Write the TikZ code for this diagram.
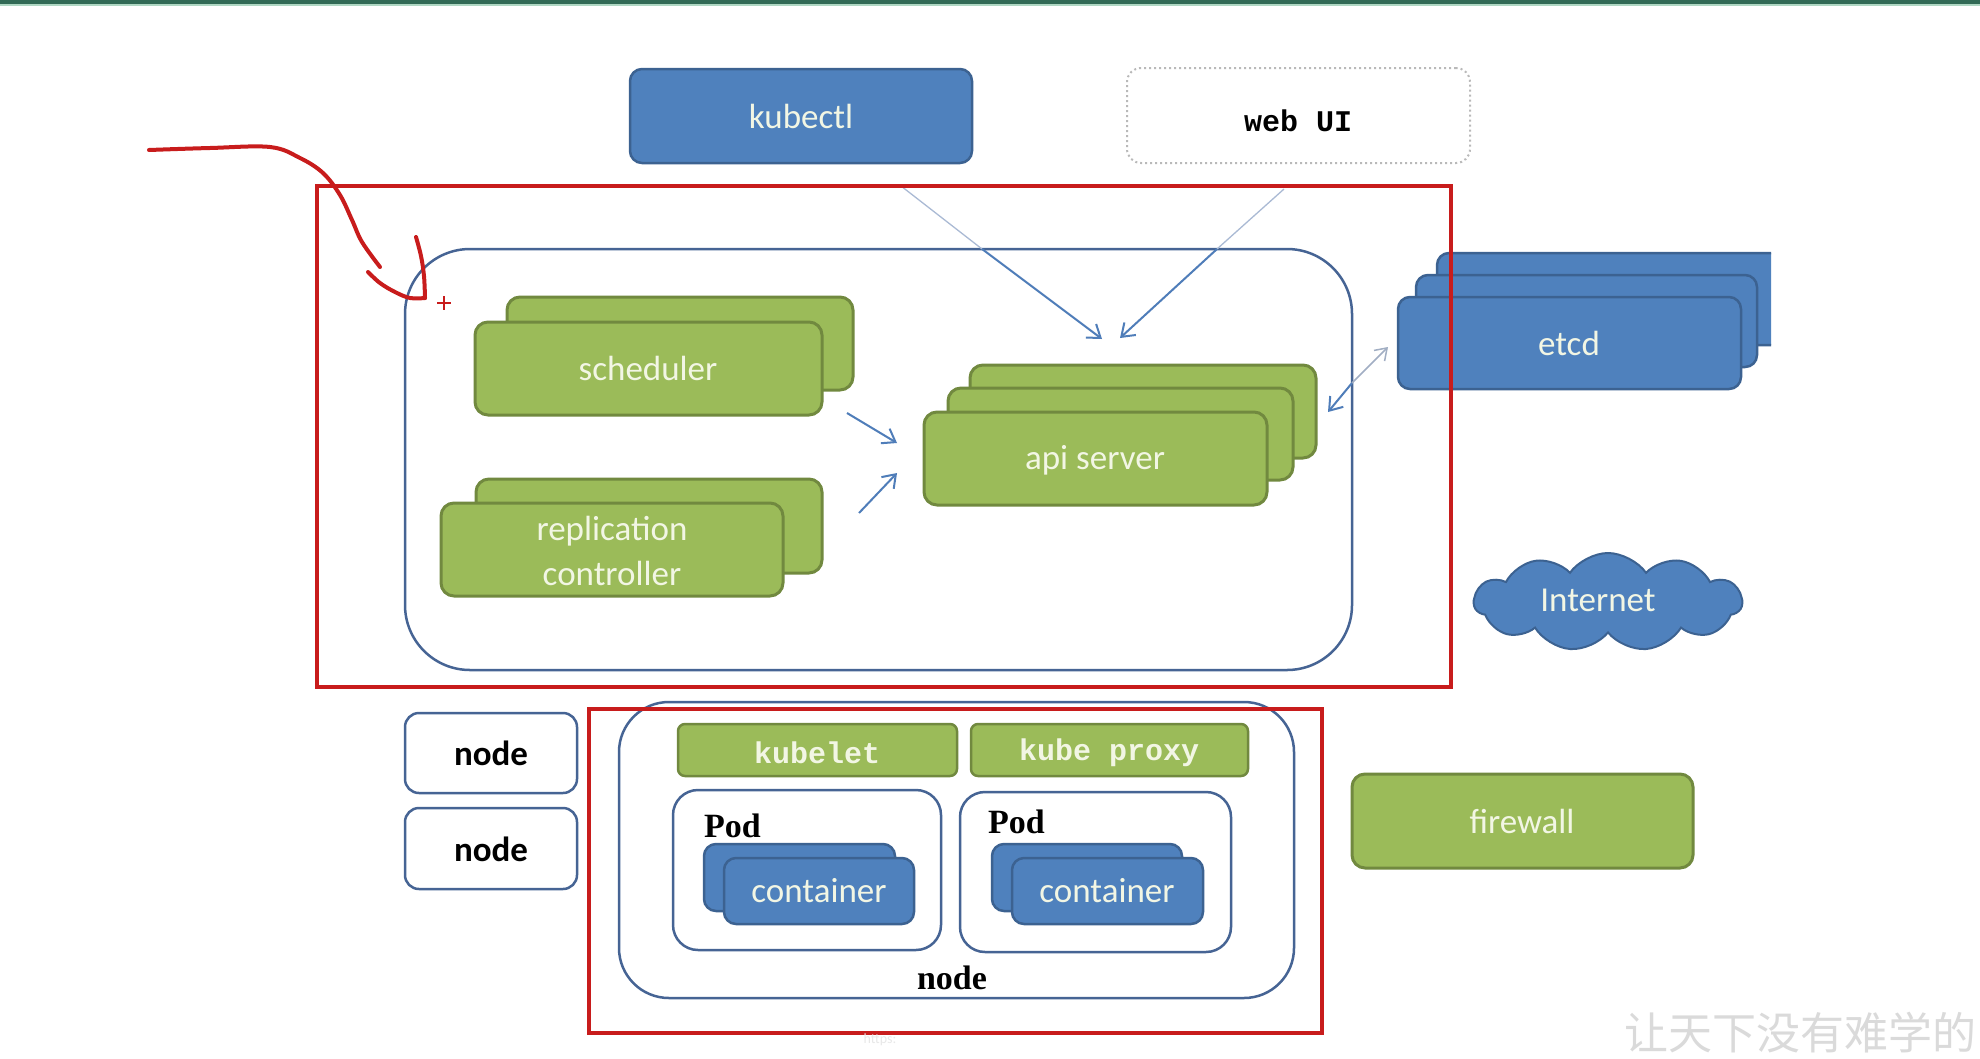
\documentclass[tikz,border=0pt]{standalone}
\usepackage{fontspec}
\usetikzlibrary{arrows.meta,shapes.symbols,fit}
\newfontfamily\ksans{Carlito}
\newfontfamily\kmono{Liberation Mono}
\newfontfamily\kserif{Liberation Serif}
\newfontfamily\kcjk{Noto Sans CJK SC}
\definecolor{bluefill}{RGB}{79,129,189}
\definecolor{bluebd}{RGB}{60,98,145}
\definecolor{greenfill}{RGB}{155,187,89}
\definecolor{greenbd}{RGB}{113,137,63}
\definecolor{outl}{RGB}{70,100,148}
\definecolor{redc}{RGB}{200,28,28}
\definecolor{arrowc}{RGB}{79,125,185}
\definecolor{faintc}{RGB}{170,186,212}
\definecolor{cream}{RGB}{242,246,228}
\definecolor{topbar}{RGB}{50,106,86}
\definecolor{topmint}{RGB}{175,215,195}
\definecolor{dotc}{RGB}{185,185,185}
\definecolor{wmc}{RGB}{218,218,218}
\begin{document}
\begin{tikzpicture}[x=1pt,y=-1pt,
  bluebox/.style={draw=bluebd, fill=bluefill, line width=2.5pt, rounded corners=12pt, inner sep=0pt},
  greenbox/.style={draw=greenbd, fill=greenfill, line width=3pt, rounded corners=13pt, inner sep=0pt},
  outlinebox/.style={draw=outl, line width=2.5pt, inner sep=0pt},
  redbox/.style={draw=redc, line width=4pt, inner sep=0pt},
  dotbox/.style={draw=dotc, line width=2pt, dash pattern=on 2pt off 3pt, rounded corners=14pt, inner sep=0pt},
  lbl/.style={font=\ksans\fontsize{35}{45}\selectfont, text=cream, inner sep=0pt, align=center},
  blbl/.style={font=\ksans\bfseries\fontsize{35}{42}\selectfont, text=black, inner sep=0pt},
  monolbl/.style={font=\kmono\bfseries\fontsize{30}{36}\selectfont, inner sep=0pt},
  seriflbl/.style={font=\kserif\bfseries\fontsize{34}{40}\selectfont, text=black, inner sep=0pt},
  arr/.style={draw=arrowc, line width=2pt, -{Straight Barb[length=12pt,width=17pt]}},
  faintline/.style={draw=faintc, line width=1.3pt},
  faintarr/.style={draw=faintc!80!gray, line width=1.5pt, -{Straight Barb[length=11pt,width=15pt]}},
  redpen/.style={draw=redc, line width=4pt, line cap=round, line join=round}
]
\clip (0,0) rectangle (1980,1058);
\fill[white] (0,0) rectangle (1980,1058);
\fill[topbar] (0,0) rectangle (1980,3.5);
\fill[topmint] (0,3.5) rectangle (1980,5.5);

% client boxes
\node[bluebox, fit={(630,69) (972,163)}] (kubectl) {};
\node[lbl] (kubectlt) at (801,116) {kubectl};
\node[dotbox, fit={(1127,68) (1470,163)}] (webui) {};
\node[monolbl, text=black] (webuit) at (1298,121) {web UI};

% master outline
\node[outlinebox, rounded corners=65pt, fit={(405,249) (1352,670)}] (master) {};

% scheduler
\node[greenbox, fit={(507,297) (853,390)}] (schedB) {};
\node[greenbox, fit={(475,322) (822,415)}] (schedF) {};
\node[lbl] (schedt) at (648,368) {scheduler};

% replication controller
\node[greenbox, fit={(476,479) (822,573)}] (rcB) {};
\node[greenbox, fit={(441,503) (783,596)}] (rcF) {};
\node[lbl] (rct) at (612,551) {replication\\controller};

% api server
\node[greenbox, fit={(970,365) (1316,458)}] (apiB) {};
\node[greenbox, fit={(948,388) (1293,480)}] (apiM) {};
\node[greenbox, fit={(924,412) (1267,505)}] (apiF) {};
\node[lbl] (apit) at (1095,460) {api server};

% etcd
\begin{scope}
\clip (1300,200) rectangle (1771,420);
\node[bluebox, fit={(1437,253) (1820,345)}] (etcdB) {};
\end{scope}
\node[bluebox, fit={(1416,275) (1757,367)}] (etcdM) {};
\node[bluebox, fit={(1398,297) (1741,389)}] (etcdF) {};
\node[lbl] (etcdt) at (1569,343) {etcd};

% internet
\node[cloud, cloud puffs=11, cloud puff arc=110, aspect=2.7, draw=bluebd, fill=bluefill,
      line width=2pt, minimum width=268pt, minimum height=98pt, inner sep=0pt] (inet) at (1608,602) {};
\node[lbl] (inett) at (1598,600) {Internet};

% firewall
\node[greenbox, fit={(1352,774) (1693,868)}] (firewall) {};
\node[lbl] (firewallt) at (1522,821) {firewall};

% arrows
\coordinate (k1) at (901,186);
\coordinate (k2) at (982,249);
\coordinate (k3) at (1102,339);
\coordinate (w1) at (1284,189);
\coordinate (w2) at (1217,249);
\coordinate (w3) at (1120,338);
\draw[faintline] (k1) -- (k2);
\draw[arr] (k2) -- (k3);
\draw[faintline] (w1) -- (w2);
\draw[arr] (w2) -- (w3);
\coordinate (s1) at (847,413);
\coordinate (s2) at (897,443);
\coordinate (r1) at (859,513);
\coordinate (r2) at (897,473);
\draw[arr] (s1) -- (s2);
\draw[arr] (r1) -- (r2);
\coordinate (e0) at (1352,383);
\coordinate (e1) at (1328,412);
\coordinate (e2) at (1388,347);
\draw[arr] (e0) -- (e1);
\draw[faintarr] (e0) -- (e2);

% worker nodes
\node[outlinebox, rounded corners=14pt, fill=white, fit={(405,713) (577,793)}] (node1) {};
\node[blbl] (node1t) at (491,753) {node};
\node[outlinebox, rounded corners=14pt, fill=white, fit={(405,808) (577,889)}] (node2) {};
\node[blbl] (node2t) at (491,849) {node};

\node[outlinebox, rounded corners=50pt, fit={(619,702) (1294,998)}] (nodebig) {};
\node[greenbox, rounded corners=7pt, line width=2.5pt, fit={(678,724) (957,776)}] (kubelet) {};
\node[monolbl, text=cream] (kubelett) at (817,753) {kubelet};
\node[greenbox, rounded corners=7pt, line width=2.5pt, fit={(971,724) (1248,776)}] (kproxy) {};
\node[monolbl, text=cream] (kproxyt) at (1109,753) {kube proxy};

\node[outlinebox, rounded corners=25pt, fit={(673,790) (941,950)}] (pod1) {};
\node[seriflbl, anchor=base west] (pod1t) at (704,837) {Pod};
\node[bluebox, fit={(704,844) (895,911)}] (c1B) {};
\node[bluebox, fit={(724,858) (914,924)}] (c1F) {};
\node[lbl] (c1t) at (819,891) {container};

\node[outlinebox, rounded corners=25pt, fit={(960,792) (1231,952)}] (pod2) {};
\node[seriflbl, anchor=base west] (pod2t) at (988,833) {Pod};
\node[bluebox, fit={(992,844) (1182,911)}] (c2B) {};
\node[bluebox, fit={(1012,858) (1203,924)}] (c2F) {};
\node[lbl] (c2t) at (1107,891) {container};

\node[seriflbl] (nodebigt) at (952,978) {node};

% red annotation boxes
\node[redbox, fit={(317,186) (1451,687)}] (redmaster) {};
\node[redbox, fit={(589,709) (1322,1033)}] (rednode) {};

% hand-drawn red arrow
\draw[redpen] plot[smooth, tension=0.6] coordinates {(149,150) (210,148) (270,147) (300,158) (323,173) (340,195) (352,220) (362,242) (380,267)};
\draw[redpen] plot[smooth, tension=0.6] coordinates {(416,237) (421,256) (424,276) (425,298)};
\draw[redpen] plot[smooth, tension=0.6] coordinates {(425,298) (410,298) (395,292) (380,283) (368,272)};
\draw[redc, line width=2.5pt] (437,303) -- (451,303) (444,296) -- (444,310);

% faint texts
\node[font=\ksans\fontsize{14}{16}\selectfont, text=black!9, inner sep=0pt] (https) at (880,1040) {https:};
\node[anchor=base west, inner sep=0pt, font=\kcjk\fontsize{44}{44}\selectfont, text=wmc] (wm) at (1624,1049) {让天下没有难学的};
\end{tikzpicture}
\end{document}
